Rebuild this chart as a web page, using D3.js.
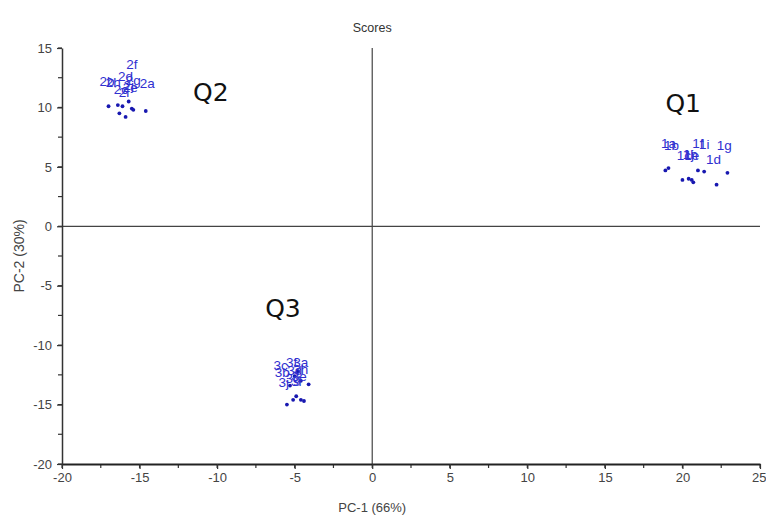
<!DOCTYPE html>
<html>
<head>
<meta charset="utf-8">
<script src="https://cdn.jsdelivr.net/npm/d3@7"></script>
<style>
  body { margin: 0; background: #fff; }
  svg { display: block; }
</style>
</head>
<body>
<div id="chart"></div>
<script>
var w = 766,
	h = 517;

// score dots per cluster
var q1Dots = [[18.9,4.7],[19.1,4.9],[20.0,3.9],[20.4,4.0],[20.6,3.9],[20.7,3.7],[21.0,4.7],[21.4,4.6],[22.2,3.5],[22.9,4.5]];
var q2Dots = [[-17.0,10.1],[-16.4,10.2],[-16.1,10.1],[-15.7,10.5],[-15.5,9.9],[-16.3,9.5],[-15.9,9.2],[-15.4,9.8],[-14.6,9.7]];
var q3Dots = [[-5.5,-15.0],[-5.1,-14.6],[-4.9,-14.3],[-4.6,-14.6],[-4.4,-14.7],[-4.1,-13.3],[-4.6,-13.0],[-5.3,-13.4],[-5.0,-12.6],[-4.8,-12.2]];

// sample labels
var q1Labels = [["1a",19.1,7.0],["1b",19.3,6.8],["1c",20.1,6.0],["1j",20.4,6.1],["1e",20.6,6.0],["1h",20.5,6.1],["1f",21.0,7.0],["1i",21.4,6.9],["1g",22.7,6.8],["1d",22.0,5.6]];
var q2Labels = [["2f",-15.5,13.6],["2b",-17.1,12.2],["2h",-16.7,12.1],["2a",-14.5,12.0],["2c",-16.2,11.5],["2d",-15.9,12.6],["2e",-15.6,11.7],["2g",-15.4,12.3],["2i",-16.0,11.3],["2j",-15.7,11.9]];
var q3Labels = [["3f",-5.2,-11.4],["3a",-4.6,-11.4],["3c",-5.9,-11.7],["3b",-5.8,-12.3],["3j",-5.7,-13.1],["3d",-5.0,-12.1],["3e",-4.7,-12.6],["3g",-5.1,-12.8],["3h",-4.6,-12.0],["3i",-4.9,-13.0]];

// quadrant annotations
var quadNames = ["Q1","Q2","Q3"];
var quadX = [18.9,-11.55,-6.9];
var quadY = [9.6,10.5,-7.66];

var xTicks = [-20,-15,-10,-5,0,5,10,15,20,25];
var yTicks = [-20,-15,-10,-5,0,5,10,15];

var margin = {top: 48, right: 6, bottom: 53, left: 62};

var x = d3.scaleLinear().domain([-20,25]).range([margin.left, w - margin.right]);
var y = d3.scaleLinear().domain([-20,15]).range([h - margin.bottom, margin.top]);

var font = "'Liberation Sans', Arial, sans-serif";

var svg = d3.select("#chart").append("svg")
	.attr("width", w)
	.attr("height", h)
	.style("font-family", font);

// minor ticks
var xMinor = d3.range(-20, 25.1, 2.5);
var yMinor = d3.range(-20, 15.1, 2.5);

svg.append("g")
	.selectAll("line")
	.data(xMinor)
	.enter()
	.append("line")
	.attr("x1", function(d){ return x(d); })
	.attr("x2", function(d){ return x(d); })
	.attr("y1", y(-20))
	.attr("y2", y(-20) + 4)
	.attr("stroke", "#333")
	.attr("stroke-width", 1.2);

svg.append("g")
	.selectAll("line")
	.data(yMinor)
	.enter()
	.append("line")
	.attr("x1", x(-20) - 4)
	.attr("x2", x(-20))
	.attr("y1", function(d){ return y(d); })
	.attr("y2", function(d){ return y(d); })
	.attr("stroke", "#333")
	.attr("stroke-width", 1.2);

// zero lines
svg.append("line")
	.attr("x1", x(-20)).attr("x2", x(25))
	.attr("y1", y(0)).attr("y2", y(0))
	.attr("stroke", "#444").attr("stroke-width", 1.2);
svg.append("line")
	.attr("x1", x(0)).attr("x2", x(0))
	.attr("y1", y(15)).attr("y2", y(-20))
	.attr("stroke", "#444").attr("stroke-width", 1.2);

// axes, hyphen minus like the original
var fmt = function(d){ return String(d); };
var xAxis = svg.append("g")
	.attr("transform", "translate(0," + y(-20) + ")")
	.call(d3.axisBottom(x).tickValues(xTicks).tickFormat(fmt).tickSize(5).tickSizeOuter(0).tickPadding(4));
var yAxis = svg.append("g")
	.attr("transform", "translate(" + x(-20) + ",0)")
	.call(d3.axisLeft(y).tickValues(yTicks).tickFormat(fmt).tickSize(5).tickSizeOuter(0).tickPadding(5));

xAxis.select(".domain").attr("stroke", "#222").attr("stroke-width", 2.2);
yAxis.select(".domain").attr("stroke", "#333").attr("stroke-width", 1.5);
svg.selectAll(".tick line").attr("stroke", "#333").attr("stroke-width", 1.2);
svg.selectAll(".tick text")
	.attr("font-size", "13px")
	.attr("font-family", font)
	.attr("fill", "#444");

// last x label sits against the right edge
xAxis.selectAll(".tick text")
	.filter(function(d){ return d === 25; })
	.attr("text-anchor", "end")
	.attr("x", 6);

// dots
var allDots = q1Dots.concat(q2Dots, q3Dots);
svg.append("g")
	.selectAll("circle")
	.data(allDots)
	.enter()
	.append("circle")
	.attr("cx", function(d){ return x(d[0]); })
	.attr("cy", function(d){ return y(d[1]); })
	.attr("r", 1.9)
	.attr("fill", "#1818b0");

// labels
var allLabels = q1Labels.concat(q2Labels, q3Labels);
svg.append("g")
	.selectAll("text")
	.data(allLabels)
	.enter()
	.append("text")
	.attr("x", function(d){ return x(d[1]); })
	.attr("y", function(d){ return y(d[2]); })
	.attr("text-anchor", "middle")
	.attr("dy", "0.35em")
	.attr("font-size", "13.5px")
	.attr("fill", "#3030d0")
	.text(function(d){ return d[0]; });

// Q annotations
svg.append("g")
	.selectAll("text")
	.data(quadNames)
	.enter()
	.append("text")
	.attr("x", function(d, i){ return x(quadX[i]); })
	.attr("y", function(d, i){ return y(quadY[i]); })
	.attr("font-family", "'DejaVu Sans', sans-serif")
	.attr("font-size", "25px")
	.attr("fill", "#111")
	.text(function(d){ return d; });

// title and axis titles
svg.append("text")
	.attr("x", x(0))
	.attr("y", 32)
	.attr("text-anchor", "middle")
	.attr("font-size", "12.5px")
	.attr("fill", "#333")
	.text("Scores");

svg.append("text")
	.attr("x", x(0))
	.attr("y", 512)
	.attr("text-anchor", "middle")
	.attr("font-size", "13px")
	.attr("fill", "#444")
	.text("PC-1 (66%)");

svg.append("text")
	.attr("transform", "translate(24," + y(-2.5) + ") rotate(-90)")
	.attr("text-anchor", "middle")
	.attr("font-size", "14px")
	.attr("fill", "#444")
	.text("PC-2 (30%)");
</script>
</body>
</html>
